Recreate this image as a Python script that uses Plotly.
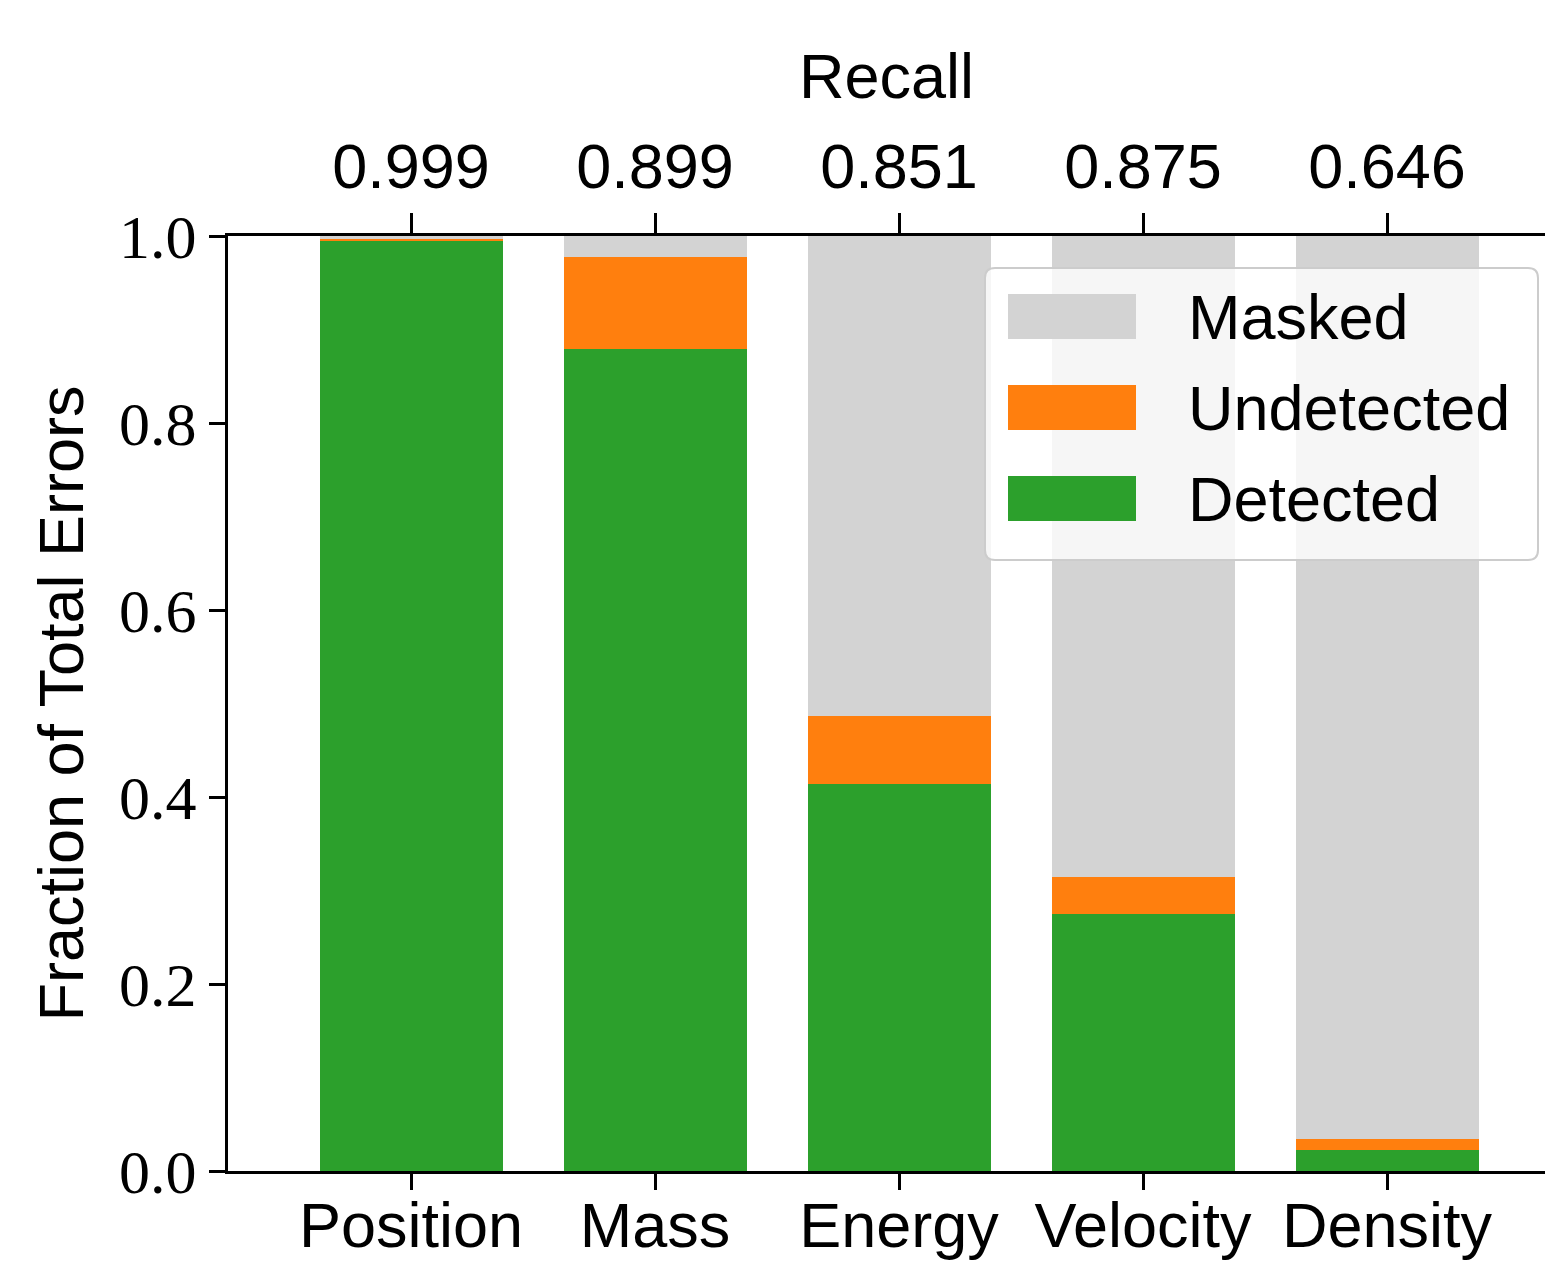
import plotly.graph_objects as go

categories = ["Position", "Mass", "Energy", "Velocity", "Density"]
detected = [0.9955, 0.879, 0.414, 0.275, 0.0221]
undetected = [0.0012, 0.0985, 0.0726, 0.0394, 0.0121]
masked = [0.0033, 0.0225, 0.5134, 0.6856, 0.9658]
recall_labels = ["0.999", "0.899", "0.851", "0.875", "0.646"]
y_ticks = [0.0, 0.2, 0.4, 0.6, 0.8, 1.0]

GREEN = "#2ca02c"
ORANGE = "#ff7f0e"
GRAY = "#d3d3d3"
SANS = "Liberation Sans, Arial, sans-serif"
SERIF = "Liberation Serif, DejaVu Serif, serif"

W, H = 1545, 1261
L, R, T, B = 228, 0, 236, 90
PW, PH = W - L - R, H - T - B

fig = go.Figure()
fig.add_trace(go.Bar(x=categories, y=detected, name="Detected", marker=dict(color=GREEN, line=dict(width=0)), width=0.75))
fig.add_trace(go.Bar(x=categories, y=undetected, name="Undetected", marker=dict(color=ORANGE, line=dict(width=0)), width=0.75))
fig.add_trace(go.Bar(x=categories, y=masked, name="Masked", marker=dict(color=GRAY, line=dict(width=0)), width=0.75))
# invisible trace to anchor top axis
fig.add_trace(go.Scatter(x=categories, y=[None]*len(categories), xaxis="x2", mode="markers",
                         marker=dict(opacity=0), showlegend=False, hoverinfo="skip"))

xr = [-0.75, 4.6475]

def px2paper(px, py):
    return (px - L) / PW, (H - B - py) / PH

# custom legend
lx0, ly0 = px2paper(985, 268)
lx1, ly1 = px2paper(1538, 560)
rx, ry = 10 / PW, 10 / PH
path = (f"M {lx0+rx},{ly0} L {lx1-rx},{ly0} Q {lx1},{ly0} {lx1},{ly0-ry} "
        f"L {lx1},{ly1+ry} Q {lx1},{ly1} {lx1-rx},{ly1} L {lx0+rx},{ly1} "
        f"Q {lx0},{ly1} {lx0},{ly1+ry} L {lx0},{ly0-ry} Q {lx0},{ly0} {lx0+rx},{ly0} Z")
shapes = [dict(type="path", xref="paper", yref="paper", path=path,
               fillcolor="rgba(255,255,255,0.8)", line=dict(color="#cccccc", width=2), layer="above")]
annotations = []
legend_items = [("Masked", GRAY, 294), ("Undetected", ORANGE, 385), ("Detected", GREEN, 476)]
for name, col, top in legend_items:
    sx0, sy0 = px2paper(1008, top)
    sx1, sy1 = px2paper(1136, top + 45)
    shapes.append(dict(type="rect", xref="paper", yref="paper", x0=sx0, x1=sx1, y0=sy1, y1=sy0,
                       fillcolor=col, line=dict(width=0), layer="above"))
    tx, ty = px2paper(1186, top + 22.5)
    annotations.append(dict(text=name, xref="paper", yref="paper", x=tx, y=ty, xanchor="left",
                            yanchor="middle", showarrow=False, font=dict(family=SANS, size=63, color="black")))

fig.update_layout(
    width=W, height=H,
    margin=dict(l=L, r=R, t=T, b=B, autoexpand=False),
    barmode="stack",
    bargap=0,
    plot_bgcolor="white", paper_bgcolor="white",
    showlegend=False,
    shapes=shapes,
    annotations=annotations,
    xaxis=dict(range=xr, tickmode="array", tickvals=categories, ticktext=categories,
               showline=True, linecolor="black", linewidth=3, ticks="outside", ticklen=16, tickwidth=3,
               tickcolor="black", showgrid=False, zeroline=False, mirror=False,
               ticklabelstandoff=-19,
               tickfont=dict(family=SANS, size=63, color="black")),
    xaxis2=dict(range=xr, overlaying="x", side="top", anchor="y", tickmode="array",
                tickvals=categories, ticktext=recall_labels,
                showline=True, linecolor="black", linewidth=3, ticks="outside", ticklen=20, tickwidth=3,
                tickcolor="black", showgrid=False, zeroline=False,
                tickfont=dict(family=SANS, size=63, color="black"),
                title=dict(text="Recall", font=dict(family=SANS, size=63, color="black"), standoff=12)),
    yaxis=dict(range=[0, 1], tickmode="array", tickvals=y_ticks, ticktext=[f"{v:.1f}" for v in y_ticks],
               showline=True, linecolor="black", linewidth=3, ticks="outside", ticklen=16, tickwidth=3,
               tickcolor="black", showgrid=False, zeroline=False,
               tickfont=dict(family=SERIF, size=62, color="black"),
               title=dict(text="Fraction of Total Errors", font=dict(family=SANS, size=63, color="black"), standoff=16)),
)

fig.write_html("out.html", config={"displayModeBar": False},
               post_script="document.body.style.margin='0';document.body.style.overflow='hidden';")
